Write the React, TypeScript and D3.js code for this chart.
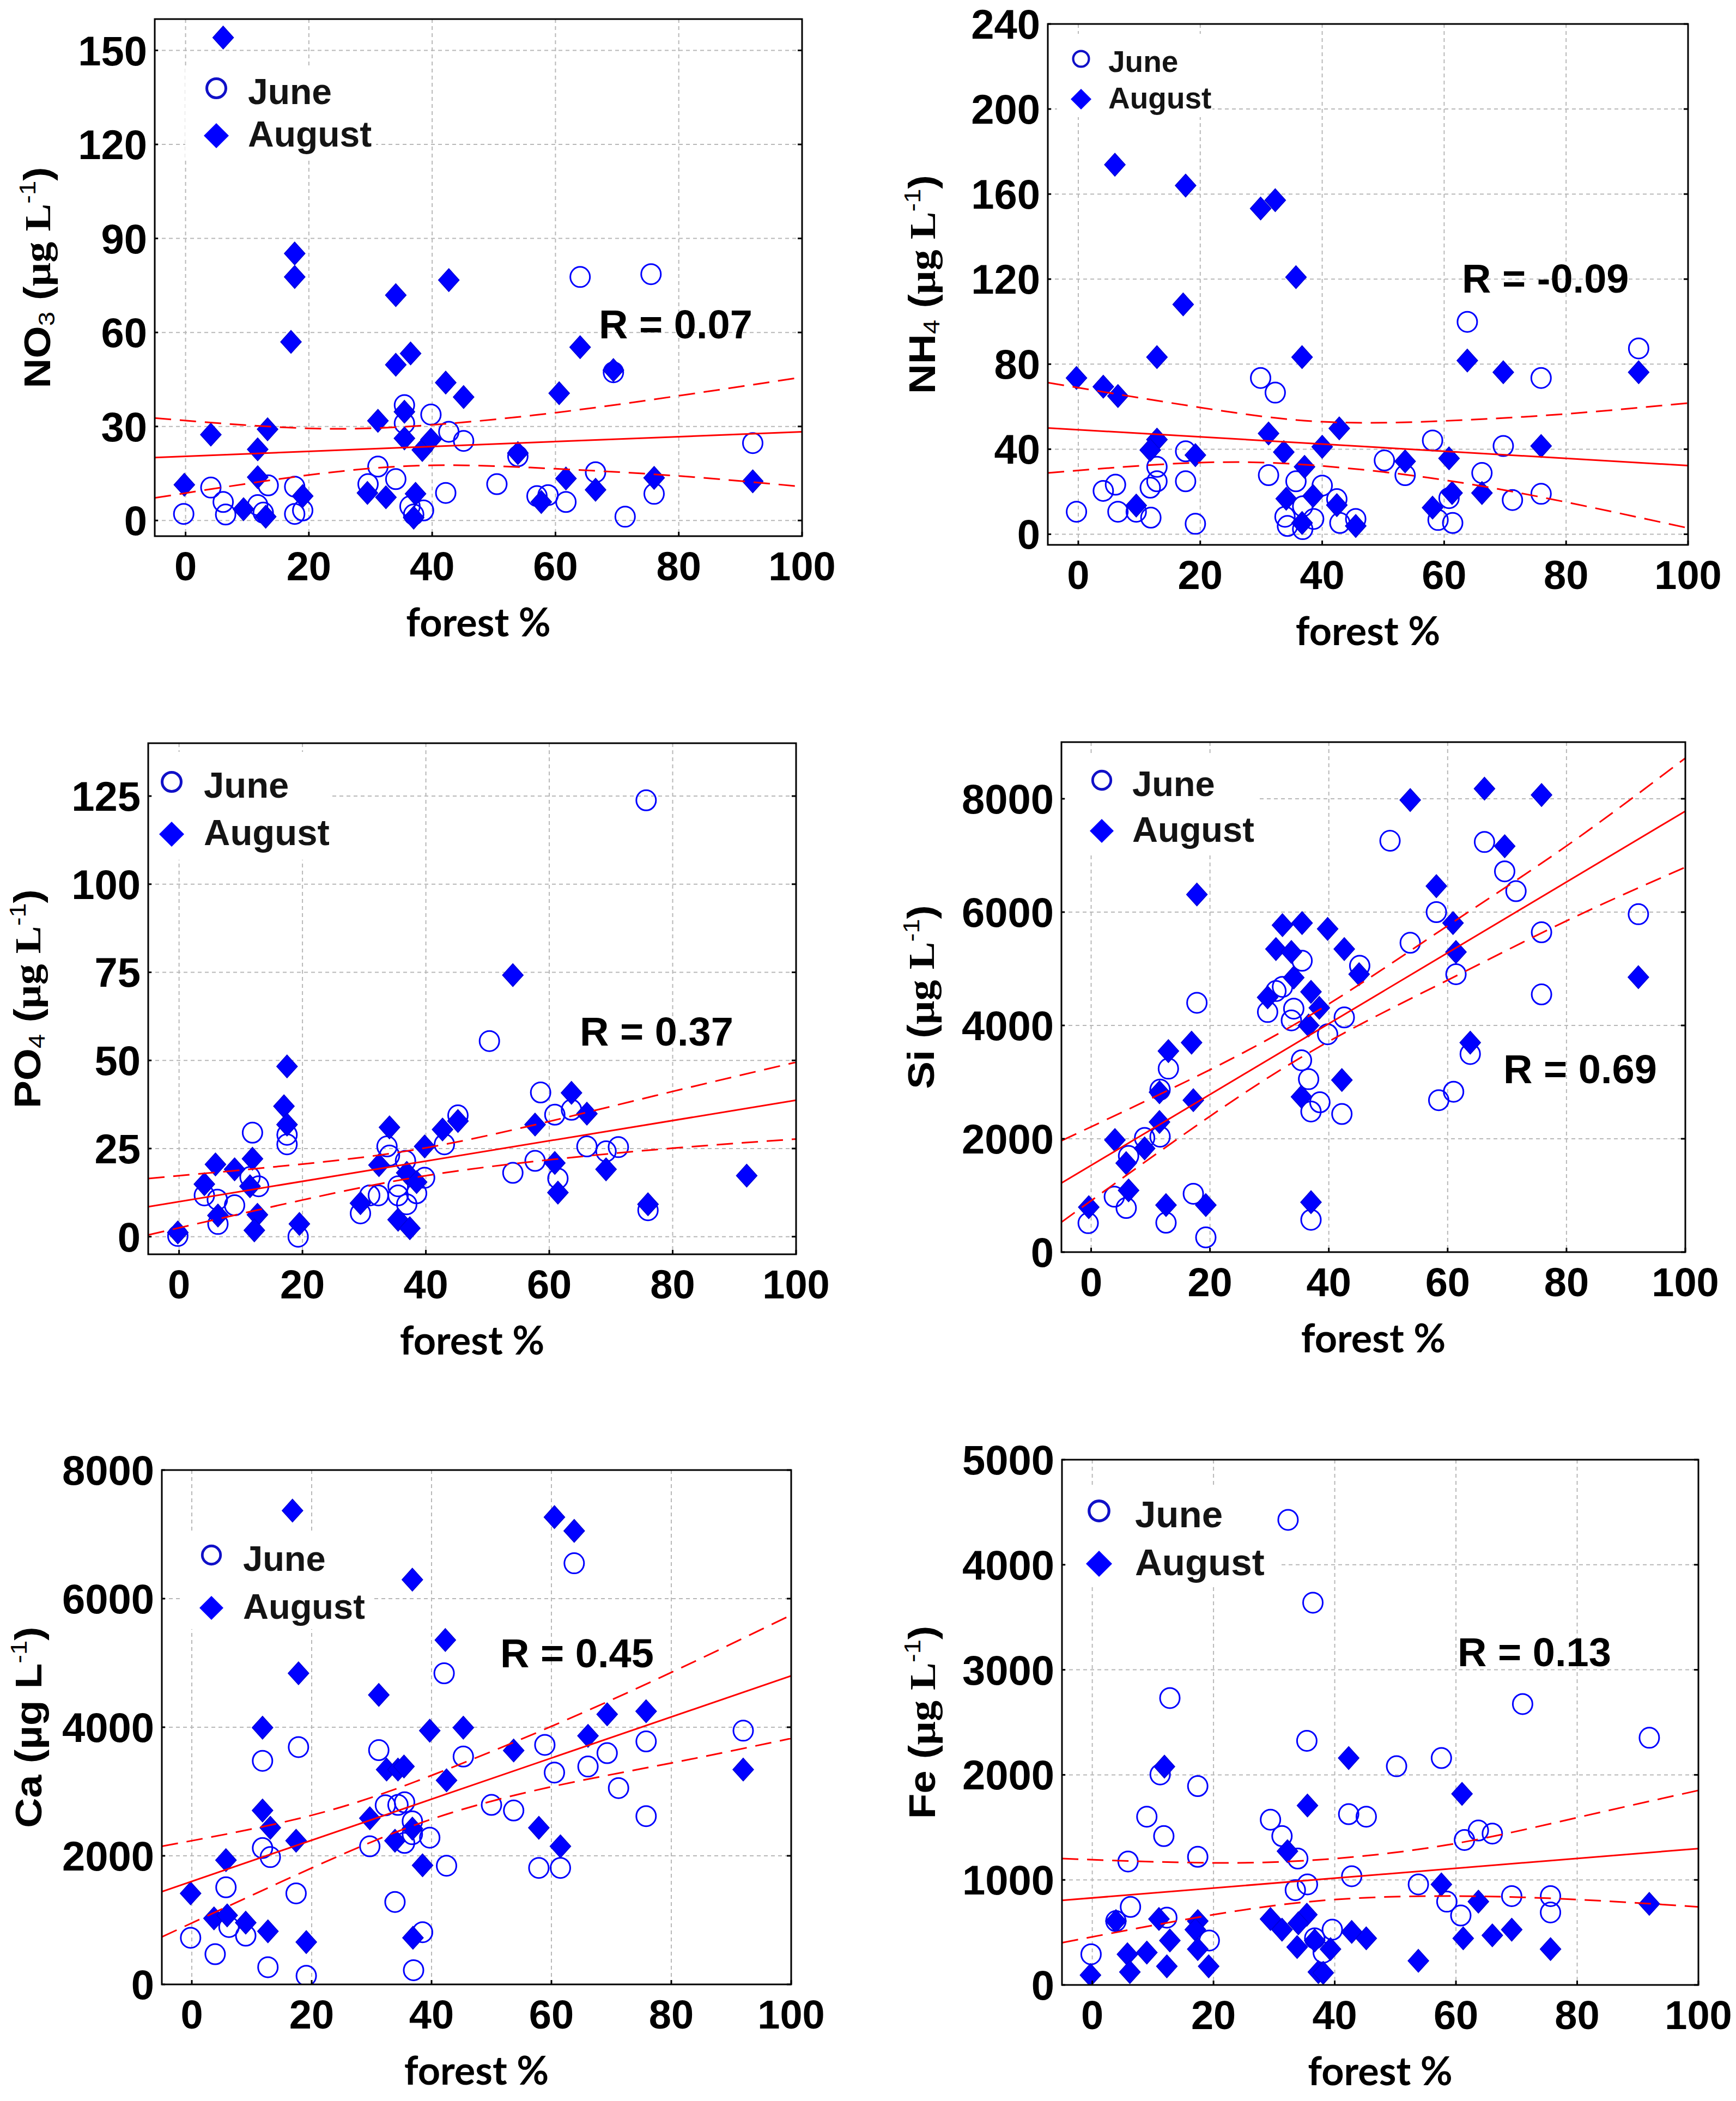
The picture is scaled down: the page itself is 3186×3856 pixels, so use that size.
import * as d3 from "d3";

type Pt = [number, number];

// shared x axis
const forestTicks = [0, 20, 40, 60, 80, 100];

// ---- NO3 ----
const no3Ticks = [0, 30, 60, 90, 120, 150];
const no3June: Pt[] = [
  [64.0, 77.7], [75.5, 78.6], [69.4, 47.3], [35.5, 36.8], [35.5, 31.0], [39.8, 33.8], [42.7, 28.3],
  [45.1, 25.4], [31.2, 17.2], [29.6, 11.6], [34.1, 13.2], [13.4, 11.2], [17.7, 10.8], [4.1, 10.5],
  [6.1, 5.9], [6.5, 1.9], [-0.3, 2.1], [11.7, 4.9], [12.6, 2.5], [17.7, 2.1], [19.0, 3.2], [36.4, 4.5],
  [38.6, 3.2], [37.0, 1.9], [42.2, 8.8], [50.5, 11.6], [53.9, 20.5], [58.8, 8.1], [57.0, 7.8],
  [61.7, 5.9], [66.5, 15.4], [71.3, 1.2], [76.0, 8.5], [92.0, 24.7],
];
const no3August: Pt[] = [
  [6.1, 154.1], [17.7, 85.2], [17.7, 77.7], [17.1, 57.0], [34.1, 71.9], [42.7, 76.7], [34.1, 49.7],
  [36.5, 53.3], [42.2, 44.0], [45.1, 39.4], [64.0, 55.3], [69.4, 48.0], [60.6, 40.6], [31.2, 31.8],
  [35.5, 34.7], [35.5, 26.2], [38.4, 22.5], [39.8, 25.8], [4.1, 27.4], [13.3, 29.1], [11.7, 22.7],
  [11.7, 13.8], [-0.2, 11.4], [9.4, 3.6], [13.0, 1.2], [19.0, 7.8], [29.5, 8.8], [32.5, 7.4],
  [37.3, 8.5], [37.0, 0.9], [53.9, 21.5], [57.7, 5.9], [61.7, 13.4], [66.5, 9.8], [76.0, 13.6], [92.0, 12.5],
];
const no3Fit: Pt[] = [[-5, 20.1], [100, 28.3]];
const no3Upper: Pt[] = [[-5, 32.7], [20, 29.4], [40, 30.5], [60, 34.4], [80, 39.8], [100, 45.7]];
const no3Lower: Pt[] = [[-5, 7.2], [20, 14.5], [40, 17.6], [60, 16.5], [80, 14.2], [100, 10.8]];

// ---- NH4 ----
const nh4Ticks = [0, 40, 80, 120, 160, 200, 240];
const nh4June: Pt[] = [
  [63.8, 99.9], [91.9, 87.4], [75.9, 73.5], [29.9, 73.5], [32.3, 66.6], [58.1, 44.1], [69.7, 41.5],
  [17.6, 39.0], [50.2, 34.7], [12.9, 31.7], [31.2, 27.8], [53.6, 27.8], [66.2, 28.8], [35.7, 24.9],
  [40.0, 22.9], [6.1, 23.3], [4.1, 20.4], [11.8, 21.9], [12.9, 24.9], [17.6, 24.9], [42.4, 16.5],
  [60.8, 17.0], [71.2, 16.1], [75.9, 19.0], [-0.3, 10.6], [6.5, 10.6], [9.5, 10.6], [11.9, 7.8],
  [19.2, 4.9], [33.9, 8.2], [34.3, 3.9], [36.8, 13.1], [38.6, 7.2], [42.9, 5.3], [45.5, 7.2],
  [59.0, 6.7], [61.4, 5.3], [36.8, 2.4],
];
const nh4August: Pt[] = [
  [6.0, 173.8], [17.6, 164.0], [29.9, 153.2], [32.3, 157.1], [35.7, 120.9], [17.2, 108.1], [12.9, 83.3],
  [36.7, 83.3], [63.8, 81.7], [69.7, 76.2], [91.9, 76.2], [-0.3, 73.5], [4.1, 69.4], [6.5, 65.0],
  [42.8, 49.8], [31.2, 47.4], [12.9, 44.5], [11.8, 39.6], [19.2, 37.2], [33.7, 38.6], [40.0, 41.1],
  [75.9, 41.5], [53.6, 34.3], [60.8, 35.7], [37.1, 31.7], [34.1, 16.7], [38.5, 18.0], [42.4, 13.7],
  [9.5, 13.5], [61.3, 19.4], [66.2, 19.4], [58.1, 12.5], [36.7, 5.3], [45.5, 3.9],
];
const nh4Fit: Pt[] = [[-5, 50.0], [100, 32.3]];
const nh4Upper: Pt[] = [[-5, 71.3], [20, 59.6], [40, 52.9], [60, 53.3], [80, 56.6], [100, 61.7]];
const nh4Lower: Pt[] = [[-5, 28.8], [20, 33.7], [40, 32.1], [60, 25.5], [80, 15.1], [100, 2.9]];

// ---- PO4 ----
const po4Ticks = [0, 25, 50, 75, 100, 125];
const po4June: Pt[] = [
  [75.7, 123.8], [50.3, 55.5], [58.6, 40.9], [60.9, 34.6], [63.6, 36.0], [45.2, 34.4], [43.0, 26.2],
  [11.9, 29.5], [17.5, 28.9], [17.5, 26.2], [33.7, 25.6], [34.1, 23.0], [36.7, 21.5], [66.1, 25.6],
  [69.2, 24.2], [71.2, 25.4], [57.7, 21.5], [54.1, 18.1], [61.4, 16.5], [39.8, 16.7], [11.5, 16.9],
  [12.9, 14.3], [4.1, 11.7], [6.2, 10.5], [9.0, 8.9], [6.3, 3.6], [-0.2, 0.2], [19.3, 0.0],
  [29.4, 6.6], [30.9, 11.7], [32.3, 11.7], [35.5, 14.3], [35.5, 11.7], [36.9, 9.2], [38.5, 12.3], [76.0, 7.5],
];
const po4August: Pt[] = [
  [54.1, 74.2], [17.5, 48.3], [17.0, 37.0], [17.5, 31.8], [63.6, 40.8], [66.1, 34.9], [57.7, 31.8],
  [34.1, 31.0], [42.7, 30.4], [45.2, 32.8], [39.8, 25.6], [32.4, 20.3], [4.1, 14.9], [5.9, 20.5],
  [9.0, 19.1], [11.9, 22.1], [11.5, 14.3], [6.3, 6.0], [12.7, 6.2], [12.2, 1.8], [19.5, 3.6],
  [-0.2, 1.2], [29.4, 9.5], [35.5, 4.8], [37.4, 2.4], [36.9, 18.1], [38.5, 15.5], [60.9, 20.9],
  [61.4, 12.5], [69.2, 19.1], [76.0, 9.2], [92.0, 17.3],
];
const po4Fit: Pt[] = [[-5, 8.5], [100, 38.7]];
const po4Upper: Pt[] = [[-5, 16.5], [20, 20.6], [40, 25.2], [60, 32.7], [80, 41.2], [100, 49.5]];
const po4Lower: Pt[] = [[-5, 0.5], [20, 10.4], [40, 17.3], [60, 21.8], [80, 25.1], [100, 27.7]];

// ---- Si ----
const siTicks = [0, 2000, 4000, 6000, 8000];
const siJune: Pt[] = [
  [50.3, 7259], [66.2, 7237], [69.6, 6719], [71.5, 6370], [58.1, 6000], [92.1, 5963], [53.7, 5459],
  [75.8, 5644], [35.5, 5141], [45.2, 5052], [61.4, 4904], [32.2, 4681], [31.1, 4607], [17.8, 4400],
  [29.7, 4237], [34.1, 4296], [33.7, 4089], [42.6, 4141], [39.8, 3844], [75.8, 4548], [63.8, 3496],
  [35.4, 3385], [13.0, 3237], [36.6, 3052], [61.0, 2830], [58.5, 2681], [38.5, 2644], [37.0, 2481],
  [42.2, 2437], [11.6, 2867], [9.0, 2015], [11.6, 2037], [6.3, 1696], [17.2, 1030], [3.9, 978],
  [5.9, 778], [-0.5, 511], [12.6, 519], [37.0, 570], [19.3, 259],
];
const siAugust: Pt[] = [
  [66.2, 8178], [75.8, 8067], [53.7, 7978], [69.6, 7163], [17.8, 6311], [58.1, 6459], [32.2, 5770],
  [35.5, 5807], [39.8, 5704], [31.1, 5348], [33.7, 5296], [42.6, 5348], [60.9, 5807], [61.4, 5296],
  [45.1, 4904], [34.1, 4844], [37.0, 4593], [29.7, 4496], [38.4, 4311], [36.6, 4000], [16.9, 3696],
  [13.0, 3548], [63.8, 3696], [42.2, 3037], [11.5, 2822], [17.2, 2681], [35.4, 2741], [11.5, 2296],
  [4.0, 1978], [9.0, 1830], [5.9, 1570], [6.3, 1089], [-0.4, 793], [12.6, 830], [19.3, 830],
  [37.0, 881], [92.1, 4852],
];
const siFit: Pt[] = [[-5, 1218], [100, 7782]];
const siUpper: Pt[] = [[-5, 1966], [20, 3218], [40, 4379], [60, 5759], [80, 7167], [100, 8718]];
const siLower: Pt[] = [[-5, 529], [20, 2397], [40, 3718], [60, 4799], [80, 5845], [100, 6793]];

// ---- Ca ----
const caTicks = [0, 2000, 4000, 6000, 8000];
const caJune: Pt[] = [
  [63.8, 6550], [42.1, 4839], [17.8, 3691], [31.2, 3644], [11.8, 3477], [45.3, 3544], [58.9, 3725],
  [75.8, 3779], [69.3, 3597], [66.1, 3389], [60.5, 3295], [71.2, 3054], [92.0, 3946], [34.4, 2792],
  [32.3, 2785], [35.5, 2832], [50.0, 2792], [53.7, 2705], [36.8, 2537], [36.8, 2336], [39.7, 2282],
  [75.8, 2617], [11.8, 2121], [13.1, 1980], [29.7, 2148], [35.5, 2201], [42.5, 1846], [57.9, 1812],
  [61.5, 1812], [5.7, 1510], [17.4, 1416], [33.9, 1282], [-0.2, 725], [6.2, 893], [9.0, 758],
  [38.5, 812], [3.9, 470], [12.7, 268], [19.1, 134], [37.0, 221],
];
const caAugust: Pt[] = [
  [16.8, 7369], [60.5, 7268], [63.8, 7054], [36.8, 6295], [42.3, 5356], [17.8, 4839], [31.2, 4503],
  [11.8, 3993], [39.7, 3946], [45.3, 3993], [69.3, 4201], [75.8, 4248], [66.1, 3866], [53.7, 3638],
  [32.5, 3342], [34.4, 3342], [35.4, 3389], [42.5, 3174], [92.0, 3342], [11.8, 2705], [13.1, 2436],
  [29.7, 2584], [36.8, 2423], [57.9, 2436], [17.4, 2235], [33.9, 2235], [61.5, 2148], [5.7, 1933],
  [38.5, 1852], [-0.2, 1416], [3.7, 1027], [5.9, 1074], [9.0, 960], [12.7, 826], [19.1, 658], [36.9, 725],
];
const caFit: Pt[] = [[-5, 1443], [100, 4799]];
const caUpper: Pt[] = [[-5, 2148], [20, 2630], [40, 3250], [60, 4013], [80, 4852], [100, 5745]];
const caLower: Pt[] = [[-5, 738], [20, 1810], [40, 2570], [60, 3074], [80, 3443], [100, 3826]];

// ---- Fe ----
const feTicks = [0, 1000, 2000, 3000, 4000, 5000];
const feJune: Pt[] = [
  [32.3, 4427], [36.4, 3639], [12.8, 2731], [71.0, 2674], [91.9, 2353], [35.4, 2324], [57.6, 2160],
  [50.2, 2082], [11.2, 2004], [17.4, 1893], [9.0, 1602], [29.4, 1573], [42.3, 1626], [45.2, 1602],
  [11.8, 1417], [31.3, 1417], [63.7, 1470], [66.0, 1441], [61.4, 1380], [5.9, 1175], [17.4, 1220],
  [33.9, 1203], [42.8, 1035], [35.5, 957], [33.5, 903], [53.8, 957], [69.2, 846], [75.6, 846],
  [58.5, 793], [6.3, 743], [12.3, 641], [60.8, 661], [75.6, 690], [39.6, 526], [19.3, 423],
  [36.7, 444], [38.1, 308], [-0.2, 292], [3.9, 608],
];
const feAugust: Pt[] = [
  [42.3, 2160], [11.9, 2078], [61.0, 1819], [35.5, 1708], [32.2, 1273], [57.6, 957], [63.7, 793],
  [91.9, 772], [3.9, 608], [29.4, 628], [35.4, 669], [34.0, 587], [31.3, 526], [17.4, 608],
  [17.0, 526], [11.0, 628], [42.8, 505], [45.2, 444], [69.2, 526], [66.0, 472], [61.2, 444],
  [36.7, 423], [12.8, 423], [17.4, 341], [33.8, 361], [39.3, 341], [5.8, 292], [9.0, 308],
  [75.6, 341], [53.8, 230], [12.3, 177], [19.2, 177], [-0.3, 94], [6.2, 123], [37.3, 123], [38.1, 115],
];
const feFit: Pt[] = [[-5, 805], [100, 1298]];
const feUpper: Pt[] = [[-5, 1203], [20, 1162], [40, 1203], [60, 1347], [80, 1593], [100, 1852]];
const feLower: Pt[] = [[-5, 402], [20, 669], [40, 813], [60, 846], [80, 813], [100, 743]];

const SANS = "'Liberation Sans', Arial, sans-serif";
const SERIF = "'Liberation Serif', 'Times New Roman', serif";
const CALI = "Lato, 'Open Sans', sans-serif";
const BLUE = "#0000ff";
const RED = "#ff0000";

interface LabelPart { t: string; serif?: boolean; sub?: boolean; sup?: boolean; }
interface Panel {
  left: number; right: number; top: number; bottom: number;
  yDomain: [number, number]; yTicks: number[];
  june: Pt[]; august: Pt[]; fit: Pt[]; upper: Pt[]; lower: Pt[];
  r: string; rX: number; rY: number;
  leg: { mx: number; jy: number; ay: number; tx: number; fs: number; ms: number; box: [number, number, number, number] };
  label: LabelPart[]; labelX: number;
}

const ug = (sym: string, sub?: string, serifUnit = true): LabelPart[] => [
  { t: sym },
  ...(sub ? [{ t: sub, sub: true }] : []),
  { t: " (" },
  { t: "µg L", serif: serifUnit },
  { t: "-1", sup: true },
  { t: ")" },
];

const panels: Panel[] = [
  {
    left: 284, right: 1472, top: 35, bottom: 984, yDomain: [-5, 160], yTicks: no3Ticks,
    june: no3June, august: no3August, fit: no3Fit, upper: no3Upper, lower: no3Lower,
    r: "R = 0.07", rX: 1099, rY: 621,
    leg: { mx: 397, jy: 162, ay: 249, tx: 455, fs: 66, ms: 23, box: [340, 120, 690, 290] },
    label: ug("NO", "3"), labelX: 92,
  },
  {
    left: 1923, right: 3098, top: 44, bottom: 1000, yDomain: [-5, 240], yTicks: nh4Ticks,
    june: nh4June, august: nh4August, fit: nh4Fit, upper: nh4Upper, lower: nh4Lower,
    r: "R = -0.09", rX: 2683, rY: 537,
    leg: { mx: 1984, jy: 108, ay: 182, tx: 2034, fs: 55, ms: 19, box: [1940, 62, 2225, 215] },
    label: ug("NH", "4"), labelX: 1716,
  },
  {
    left: 272, right: 1461, top: 1364, bottom: 2302, yDomain: [-5, 140], yTicks: po4Ticks,
    june: po4June, august: po4August, fit: po4Fit, upper: po4Upper, lower: po4Lower,
    r: "R = 0.37", rX: 1064, rY: 1919,
    leg: { mx: 315, jy: 1435, ay: 1531, tx: 374, fs: 67, ms: 23, box: [280, 1380, 605, 1578] },
    label: ug("PO", "4"), labelX: 74,
  },
  {
    left: 1948, right: 3093, top: 1362, bottom: 2298, yDomain: [0, 9000], yTicks: siTicks,
    june: siJune, august: siAugust, fit: siFit, upper: siUpper, lower: siLower,
    r: "R = 0.69", rX: 2759, rY: 1988,
    leg: { mx: 2022, jy: 1432, ay: 1525, tx: 2078, fs: 65, ms: 22, box: [1960, 1385, 2312, 1565] },
    label: ug("Si"), labelX: 1714,
  },
  {
    left: 297, right: 1452, top: 2698, bottom: 3642, yDomain: [0, 8000], yTicks: caTicks,
    june: caJune, august: caAugust, fit: caFit, upper: caUpper, lower: caLower,
    r: "R = 0.45", rX: 918, rY: 3060,
    leg: { mx: 388, jy: 2854, ay: 2951, tx: 446, fs: 65, ms: 22, box: [333, 2814, 682, 2990] },
    label: ug("Ca", undefined, false), labelX: 76,
  },
  {
    left: 1949, right: 3117, top: 2679, bottom: 3643, yDomain: [0, 5000], yTicks: feTicks,
    june: feJune, august: feAugust, fit: feFit, upper: feUpper, lower: feLower,
    r: "R = 0.13", rX: 2675, rY: 3058,
    leg: { mx: 2017, jy: 2773, ay: 2870, tx: 2083, fs: 69, ms: 24, box: [1960, 2731, 2347, 2913] },
    label: ug("Fe"), labelX: 1716,
  },
];

const diamond = (cx: number, cy: number, hw: number, hh: number) =>
  `M${cx},${cy - hh}L${cx + hw},${cy}L${cx},${cy + hh}L${cx - hw},${cy}Z`;

function PanelView({ p }: { p: Panel }) {
  const x = d3.scaleLinear().domain([-5, 100]).range([p.left, p.right]);
  const y = d3.scaleLinear().domain(p.yDomain).range([p.bottom, p.top]);
  const straight = d3.line<Pt>().x((d) => x(d[0])).y((d) => y(d[1]));
  const smooth = d3.line<Pt>().x((d) => x(d[0])).y((d) => y(d[1])).curve(d3.curveNatural);
  const cy = (p.top + p.bottom) / 2;
  const cx = (p.left + p.right) / 2;
  const clipId = `clip-${p.left}-${p.top}`;
  const lf = 68;
  return (
    <g>
      <defs>
        <clipPath id={clipId}>
          <rect x={p.left} y={p.top} width={p.right - p.left} height={p.bottom - p.top} />
        </clipPath>
      </defs>
      {/* grid */}
      {forestTicks.filter((t) => t < 100).map((t) => (
        <line key={"gx" + t} x1={x(t)} x2={x(t)} y1={p.top} y2={p.bottom}
          stroke="#b8b8b8" strokeWidth={2} strokeDasharray="7,6" />
      ))}
      {p.yTicks.map((t) => (
        <line key={"gy" + t} x1={p.left} x2={p.right} y1={y(t)} y2={y(t)}
          stroke="#b8b8b8" strokeWidth={2} strokeDasharray="7,6" />
      ))}
      {/* legend background */}
      <rect x={p.leg.box[0]} y={p.leg.box[1]} width={p.leg.box[2] - p.leg.box[0]}
        height={p.leg.box[3] - p.leg.box[1]} fill="#fff" />
      <g clipPath={`url(#${clipId})`}>
        {p.june.map((d, i) => (
          <ellipse key={"j" + i} cx={x(d[0])} cy={y(d[1])} rx={18} ry={18.5}
            fill="none" stroke={BLUE} strokeWidth={3} />
        ))}
        {p.august.map((d, i) => (
          <path key={"a" + i} d={diamond(x(d[0]), y(d[1]), 19, 21)} fill={BLUE} stroke="#0000d8" strokeWidth={1.5} />
        ))}
        <path d={straight(p.fit) ?? ""} fill="none" stroke={RED} strokeWidth={3} />
        <path d={smooth(p.upper) ?? ""} fill="none" stroke={RED} strokeWidth={3} strokeDasharray="30,16" />
        <path d={smooth(p.lower) ?? ""} fill="none" stroke={RED} strokeWidth={3} strokeDasharray="30,16" />
      </g>
      {/* legend */}
      <circle cx={p.leg.mx} cy={p.leg.jy} r={p.leg.ms * 0.76} fill="none" stroke="#1010c8" strokeWidth={p.leg.ms * 0.22} />
      <path d={diamond(p.leg.mx, p.leg.ay, p.leg.ms, p.leg.ms)} fill={BLUE} />
      <text x={p.leg.tx} y={p.leg.jy + p.leg.fs * 0.44} fontFamily={SANS} fontWeight="bold"
        fontSize={p.leg.fs} fill="#141414">June</text>
      <text x={p.leg.tx} y={p.leg.ay + p.leg.fs * 0.3} fontFamily={SANS} fontWeight="bold"
        fontSize={p.leg.fs} fill="#141414">August</text>
      {/* frame and ticks */}
      <rect x={p.left} y={p.top} width={p.right - p.left} height={p.bottom - p.top}
        fill="none" stroke="#000" strokeWidth={3} />
      {forestTicks.map((t) => (
        <line key={"tx" + t} x1={x(t)} x2={x(t)} y1={p.bottom} y2={p.bottom - 8} stroke="#000" strokeWidth={3} />
      ))}
      {p.yTicks.map((t) => (
        <g key={"ty" + t}>
          <line x1={p.right} x2={p.right - 8} y1={y(t)} y2={y(t)} stroke="#000" strokeWidth={3} />
          <line x1={p.left} x2={p.left + 6} y1={y(t)} y2={y(t)} stroke="#000" strokeWidth={3} />
        </g>
      ))}
      {forestTicks.map((t) => (
        <text key={"lx" + t} x={x(t)} y={p.bottom + 81} textAnchor="middle" fontFamily={SANS}
          fontWeight="bold" fontSize={74} fill="#000">{t}</text>
      ))}
      {p.yTicks.map((t) => (
        <text key={"ly" + t} x={p.left - 14} y={y(t) + 27} textAnchor="end" fontFamily={SANS}
          fontWeight="bold" fontSize={76} fill="#000">{t}</text>
      ))}
      <text x={cx} y={p.bottom + 184} textAnchor="middle" fontFamily={CALI} fontWeight="bold"
        fontSize={72} fill="#000">forest %</text>
      <text x={p.rX} y={p.rY} fontFamily={SANS} fontWeight="bold" fontSize={74} fill="#000">{p.r}</text>
      <text transform={`translate(${p.labelX},${cy}) rotate(-90) scale(1.12,1)`} textAnchor="middle"
        fontFamily={SANS} fontWeight="bold" fontSize={lf} fill="#000">
        {p.label.map((part, i) => {
          const prev = i > 0 ? p.label[i - 1] : null;
          let dy = 0;
          if (part.sub) dy = lf * 0.12;
          else if (part.sup) dy = -lf * 0.4;
          if (prev?.sub) dy -= lf * 0.12;
          if (prev?.sup) dy += lf * 0.4;
          return (
            <tspan key={i} dy={dy} fontFamily={part.serif ? SERIF : SANS}
              fontWeight={part.sub || part.sup ? "normal" : "bold"}
              fontSize={part.sub || part.sup ? lf * 0.62 : lf}>{part.t}</tspan>
          );
        })}
      </text>
    </g>
  );
}

export default function App() {
  return (
    <svg width={3186} height={3856} viewBox="0 0 3186 3856"
      style={{ position: "absolute", left: 0, top: 0, display: "block", background: "#fff" }}>
      <rect width={3186} height={3856} fill="#fff" />
      {panels.map((p, i) => <PanelView key={i} p={p} />)}
    </svg>
  );
}
